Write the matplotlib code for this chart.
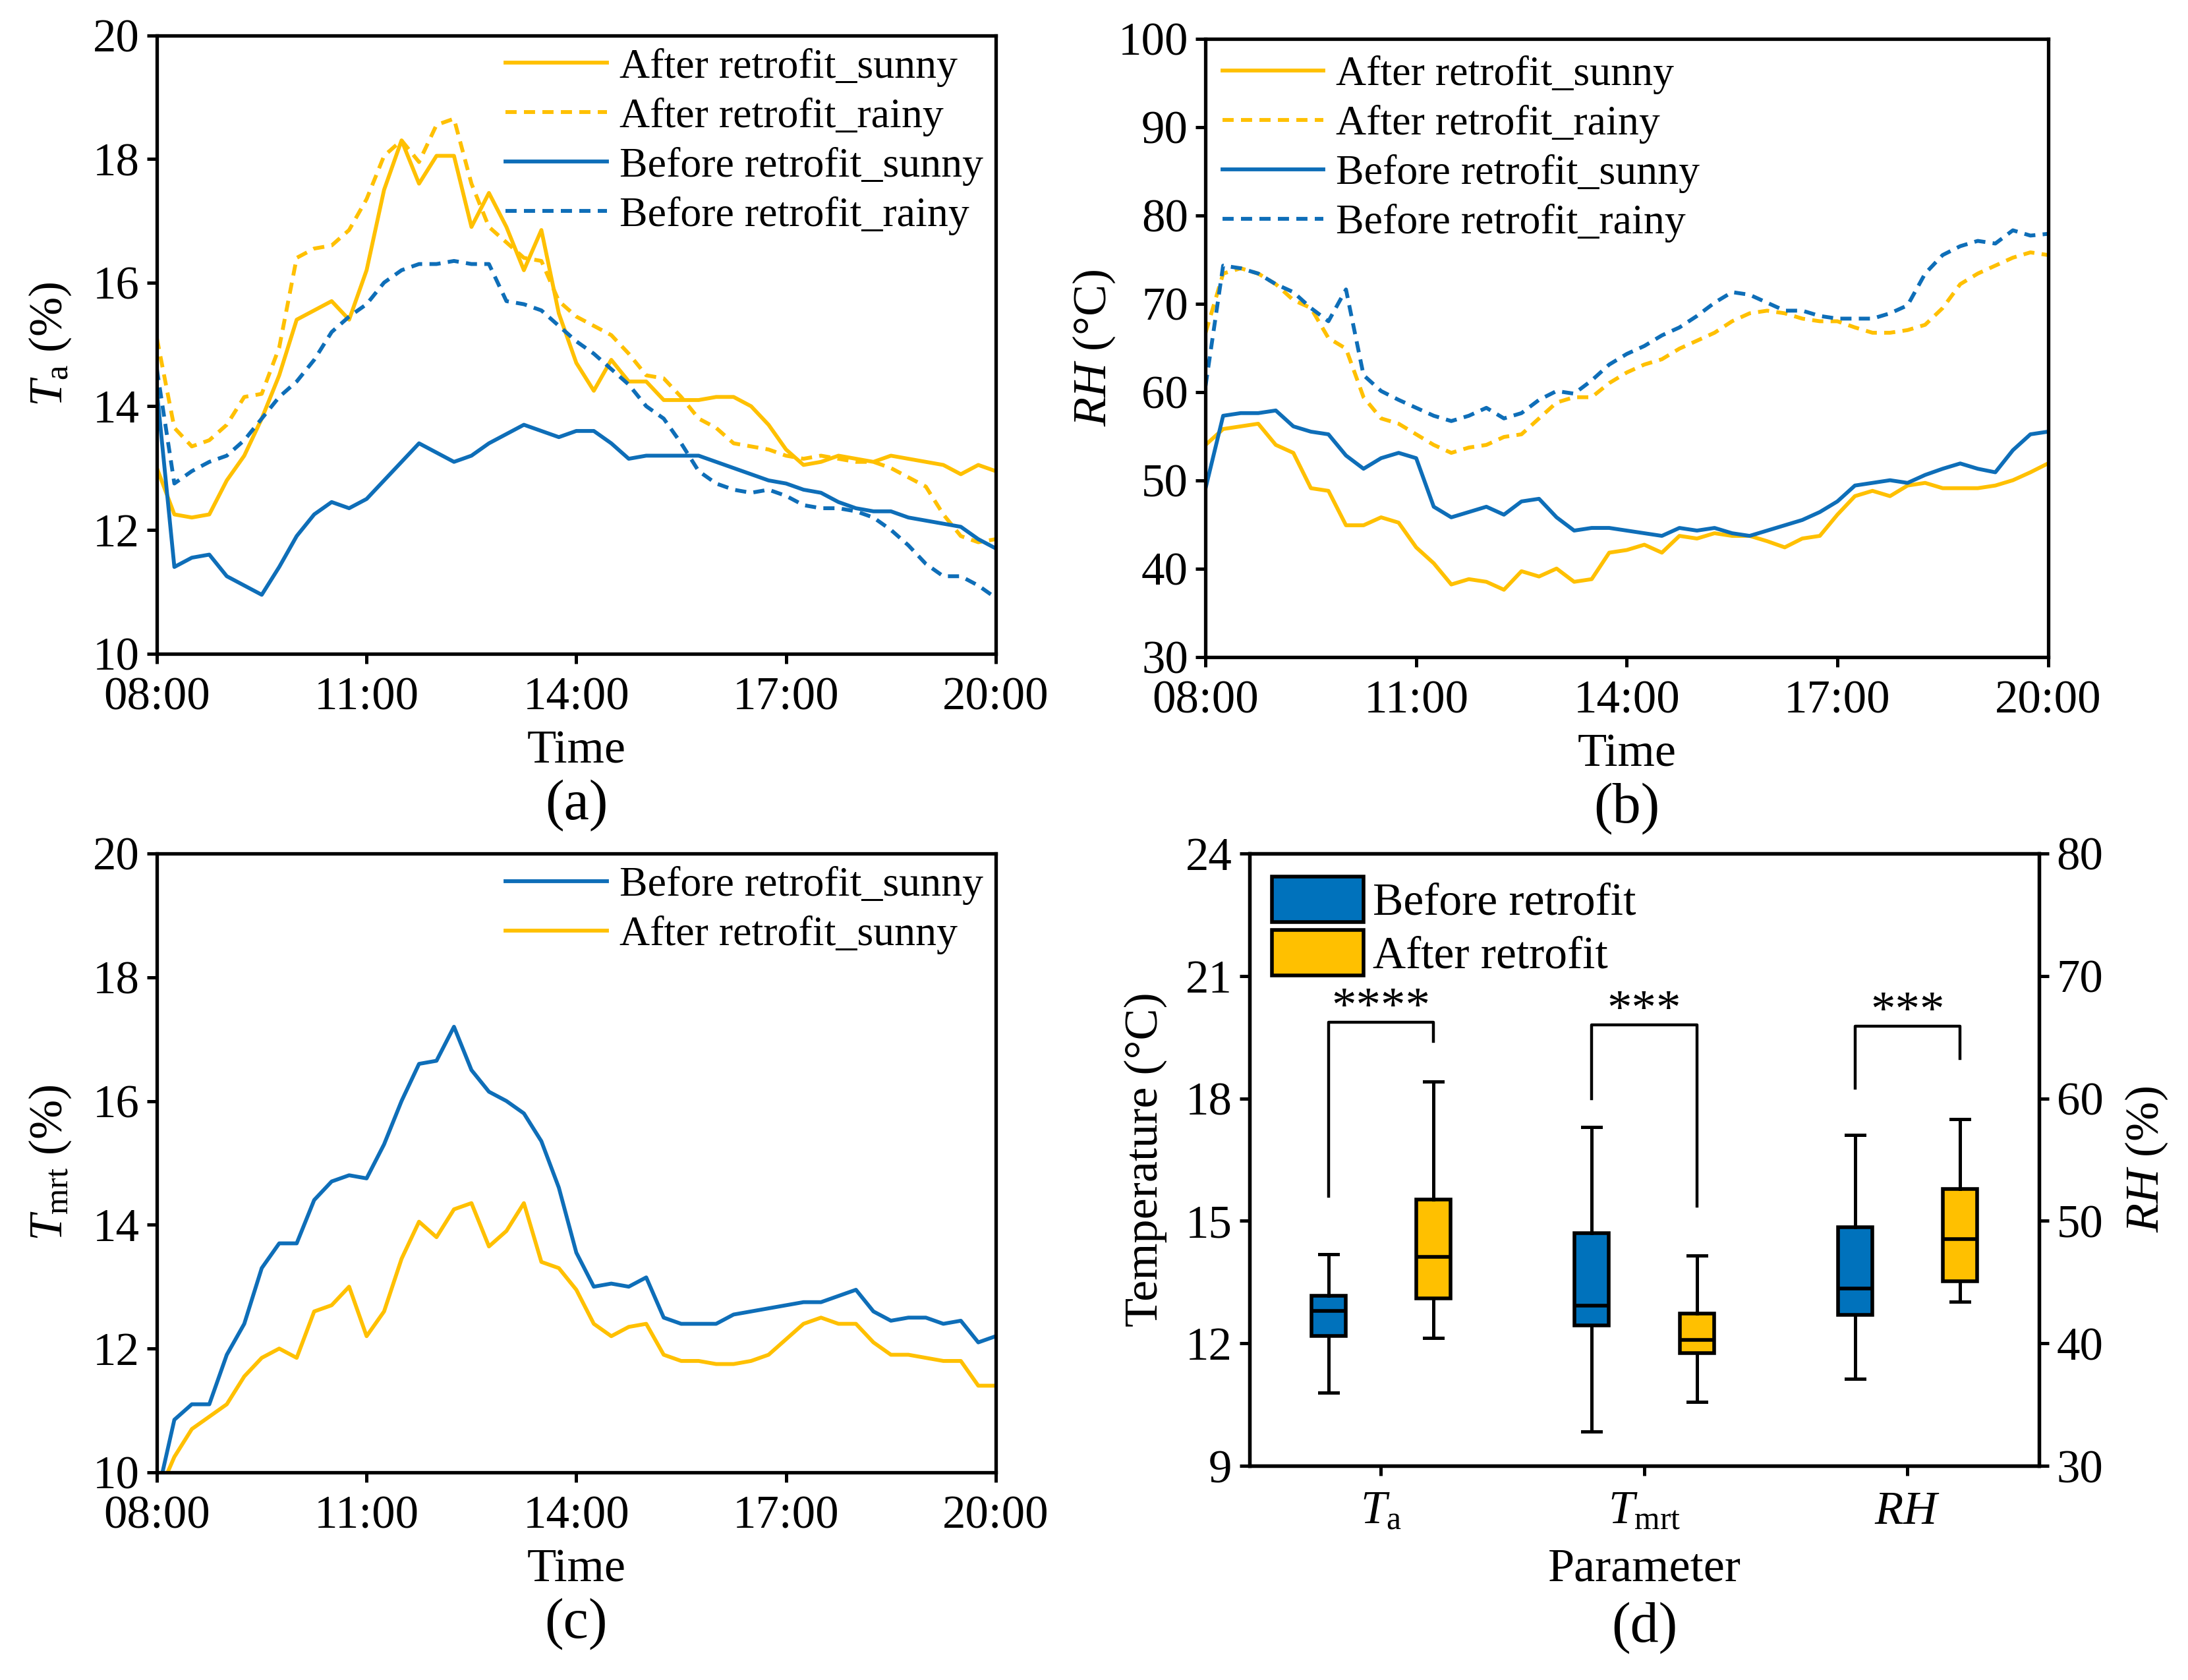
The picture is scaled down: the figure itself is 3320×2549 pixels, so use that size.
import numpy as np
import matplotlib
matplotlib.use("Agg")
import matplotlib.pyplot as plt
from matplotlib.patches import Patch

plt.rcParams.update({
    "font.family": ["Liberation Serif", "DejaVu Serif"],
    "mathtext.fontset": "custom",
    "mathtext.rm": "Liberation Serif",
    "mathtext.it": "Liberation Serif:italic",
    "mathtext.bf": "Liberation Serif:bold",
    "axes.linewidth": 2.0,
})

# ---------------- data ----------------
time_ticks = [8, 11, 14, 17, 20]
time_labels = ["08:00", "11:00", "14:00", "17:00", "20:00"]
hours = 8 + np.arange(49) * 0.25  # 15-min samples 08:00-20:00

# (a) air temperature Ta
ta_after_sunny = [13.0, 12.25, 12.2, 12.25, 12.8, 13.2, 13.8, 14.5, 15.4, 15.55, 15.7, 15.4,
                  16.2, 17.5, 18.3, 17.6, 18.05, 18.05, 16.9, 17.45, 16.9, 16.2, 16.85, 15.5,
                  14.7, 14.25, 14.75, 14.4, 14.4, 14.1, 14.1, 14.1, 14.15, 14.15, 14.0, 13.7,
                  13.3, 13.05, 13.1, 13.2, 13.15, 13.1, 13.2, 13.15, 13.1, 13.05, 12.9, 13.05, 12.95]
ta_after_rainy = [15.1, 13.65, 13.35, 13.45, 13.7, 14.15, 14.2, 14.95, 16.4, 16.55, 16.6, 16.85,
                  17.35, 18.05, 18.3, 17.95, 18.55, 18.65, 17.6, 16.9, 16.65, 16.4, 16.35, 15.7,
                  15.45, 15.3, 15.15, 14.85, 14.5, 14.45, 14.15, 13.8, 13.65, 13.4, 13.35, 13.3,
                  13.2, 13.15, 13.2, 13.15, 13.1, 13.1, 13.0, 12.85, 12.7, 12.25, 11.9, 11.8, 11.85]
ta_before_sunny = [14.25, 11.4, 11.55, 11.6, 11.25, 11.1, 10.95, 11.4, 11.9, 12.25, 12.45, 12.35,
                   12.5, 12.8, 13.1, 13.4, 13.25, 13.1, 13.2, 13.4, 13.55, 13.7, 13.6, 13.5,
                   13.6, 13.6, 13.4, 13.15, 13.2, 13.2, 13.2, 13.2, 13.1, 13.0, 12.9, 12.8,
                   12.75, 12.65, 12.6, 12.45, 12.35, 12.3, 12.3, 12.2, 12.15, 12.1, 12.05, 11.85, 11.7]
ta_before_rainy = [14.6, 12.75, 12.95, 13.1, 13.2, 13.45, 13.8, 14.15, 14.4, 14.75, 15.2, 15.45,
                   15.65, 16.0, 16.2, 16.3, 16.3, 16.35, 16.3, 16.3, 15.7, 15.65, 15.55, 15.3,
                   15.05, 14.85, 14.6, 14.35, 14.0, 13.8, 13.4, 12.95, 12.75, 12.65, 12.6, 12.65,
                   12.55, 12.4, 12.35, 12.35, 12.3, 12.2, 12.0, 11.75, 11.45, 11.25, 11.25, 11.1, 10.9]

# (b) relative humidity RH
rh_after_sunny = [54.0, 55.8, 56.1, 56.4, 54.0, 53.1, 49.1, 48.8, 44.9, 44.9, 45.8, 45.2,
                  42.4, 40.6, 38.2, 38.8, 38.5, 37.6, 39.7, 39.1, 40.0, 38.5, 38.8, 41.8,
                  42.1, 42.7, 41.8, 43.7, 43.4, 44.0, 43.7, 43.7, 43.1, 42.4, 43.4, 43.7,
                  46.1, 48.2, 48.8, 48.2, 49.4, 49.7, 49.1, 49.1, 49.1, 49.4, 50.0, 50.9, 51.9]
rh_after_rainy = [66.7, 73.4, 74.0, 73.4, 72.2, 70.4, 69.5, 66.1, 64.9, 59.4, 57.0, 56.4,
                  55.2, 54.0, 53.1, 53.7, 54.0, 54.9, 55.2, 57.0, 58.8, 59.4, 59.4, 61.0,
                  62.2, 63.1, 63.7, 64.9, 65.8, 66.7, 68.0, 68.9, 69.2, 68.9, 68.3, 68.0,
                  68.0, 67.3, 66.7, 66.7, 67.0, 67.6, 69.5, 72.2, 73.4, 74.3, 75.2, 75.8, 75.5]
rh_before_sunny = [49.1, 57.3, 57.6, 57.6, 57.9, 56.1, 55.5, 55.2, 52.8, 51.3, 52.5, 53.1,
                   52.5, 47.0, 45.8, 46.4, 47.0, 46.1, 47.6, 47.9, 45.8, 44.3, 44.6, 44.6,
                   44.3, 44.0, 43.7, 44.6, 44.3, 44.6, 44.0, 43.7, 44.3, 44.9, 45.5, 46.4,
                   47.6, 49.4, 49.7, 50.0, 49.7, 50.6, 51.3, 51.9, 51.3, 50.9, 53.4, 55.2, 55.5]
rh_before_rainy = [60.7, 74.3, 74.0, 73.4, 72.2, 71.3, 69.5, 68.0, 71.6, 61.9, 60.1, 59.1,
                   58.2, 57.3, 56.7, 57.3, 58.2, 57.0, 57.6, 59.1, 60.1, 59.8, 61.3, 63.1,
                   64.3, 65.2, 66.4, 67.3, 68.6, 70.1, 71.3, 71.0, 70.1, 69.2, 69.2, 68.6,
                   68.3, 68.3, 68.3, 68.9, 69.8, 73.4, 75.5, 76.5, 77.1, 76.8, 78.3, 77.7, 77.9]

# (c) mean radiant temperature Tmrt
tmrt_before_sunny = [9.6, 10.85, 11.1, 11.1, 11.9, 12.4, 13.3, 13.7, 13.7, 14.4, 14.7, 14.8,
                     14.75, 15.3, 16.0, 16.6, 16.65, 17.2, 16.5, 16.15, 16.0, 15.8, 15.35, 14.6,
                     13.55, 13.0, 13.05, 13.0, 13.15, 12.5, 12.4, 12.4, 12.4, 12.55, 12.6, 12.65,
                     12.7, 12.75, 12.75, 12.85, 12.95, 12.6, 12.45, 12.5, 12.5, 12.4, 12.45, 12.1, 12.2]
tmrt_after_sunny = [9.6, 10.25, 10.7, 10.9, 11.1, 11.55, 11.85, 12.0, 11.85, 12.6, 12.7, 13.0,
                    12.2, 12.6, 13.45, 14.05, 13.8, 14.25, 14.35, 13.65, 13.9, 14.35, 13.4, 13.3,
                    12.95, 12.4, 12.2, 12.35, 12.4, 11.9, 11.8, 11.8, 11.75, 11.75, 11.8, 11.9,
                    12.15, 12.4, 12.5, 12.4, 12.4, 12.1, 11.9, 11.9, 11.85, 11.8, 11.8, 11.4, 11.4]

# (d) box-plot statistics: [whislo, q1, median, q3, whishi]
params = ["$T_{\\mathrm{a}}$", "$T_{\\mathrm{mrt}}$", "$RH$"]
box_ta_before = [10.8, 12.18, 12.8, 13.16, 14.18]
box_ta_after = [12.14, 13.1, 14.11, 15.53, 18.42]
box_tmrt_before = [9.84, 12.44, 12.93, 14.7, 17.3]
box_tmrt_after = [10.56, 11.76, 12.09, 12.73, 14.15]
box_rh_before = [37.1, 42.35, 44.45, 49.5, 57.0]
box_rh_after = [43.4, 45.05, 48.5, 52.6, 58.3]
significance = ["****", "***", "***"]

# ---------------- style ----------------
YEL = "#FFC000"
BLU = "#0E6EB8"
BOX_BLU = "#0072BC"
BOX_YEL = "#FFC000"
LW = 2.1
DASH = (0, (2.9, 1.9))
FS_TICK = 25.5
FS_LEG = 23
FS_LAB = 26
FS_PANEL = 31

fig = plt.figure(figsize=(16.6, 12.745), dpi=200)

def style_axes(ax):
    ax.tick_params(direction="out", length=5.5, width=1.8, labelsize=FS_TICK, pad=4)
    ax.tick_params(axis="x", pad=7)
    for s in ax.spines.values():
        s.set_linewidth(1.9)

def time_axes(rect, ylim, yticks, ylabel, panel, ylab_x):
    ax = fig.add_axes(rect)
    ax.set_xlim(8, 20)
    ax.set_ylim(*ylim)
    ax.set_xticks(time_ticks)
    ax.set_xticklabels(time_labels)
    ax.set_yticks(yticks)
    style_axes(ax)
    ax.set_xlabel("Time", fontsize=FS_LAB, va="center")
    ax.xaxis.set_label_coords(0.5, -0.158)
    ax.set_ylabel(ylabel, fontsize=FS_LAB)
    ax.yaxis.set_label_coords(ylab_x, 0.5)
    ax.text(0.5, -0.245, panel, transform=ax.transAxes, ha="center", va="center",
            fontsize=FS_PANEL)
    return ax

leg_kw = dict(frameon=False, fontsize=FS_LEG, handlelength=2.4, handletextpad=0.3,
              labelspacing=0.25, borderpad=0.2)

# (a)
axA = time_axes([0.0717, 0.611, 0.3834, 0.368], (10, 20), [10, 12, 14, 16, 18, 20],
                "$T_{\\mathrm{a}}$ (%)", "(a)", -0.10)
axA.plot(hours, ta_after_sunny, color=YEL, lw=LW, label="After retrofit_sunny")
axA.plot(hours, ta_after_rainy, color=YEL, lw=LW, ls=DASH, label="After retrofit_rainy")
axA.plot(hours, ta_before_sunny, color=BLU, lw=LW, label="Before retrofit_sunny")
axA.plot(hours, ta_before_rainy, color=BLU, lw=LW, ls=DASH, label="Before retrofit_rainy")
axA.legend(loc="upper right", bbox_to_anchor=(1.0, 1.0), borderaxespad=0.1, **leg_kw)

# (b)
axB = time_axes([0.551, 0.609, 0.385, 0.368], (30, 100), [30, 40, 50, 60, 70, 80, 90, 100],
                "$RH$ (°C)", "(b)", -0.105)
axB.plot(hours, rh_after_sunny, color=YEL, lw=LW, label="After retrofit_sunny")
axB.plot(hours, rh_after_rainy, color=YEL, lw=LW, ls=DASH, label="After retrofit_rainy")
axB.plot(hours, rh_before_sunny, color=BLU, lw=LW, label="Before retrofit_sunny")
axB.plot(hours, rh_before_rainy, color=BLU, lw=LW, ls=DASH, label="Before retrofit_rainy")
axB.legend(loc="upper left", borderaxespad=0.2, **leg_kw)

# (c)
axC = time_axes([0.0717, 0.1236, 0.3834, 0.3684], (10, 20), [10, 12, 14, 16, 18, 20],
                "$T_{\\mathrm{mrt}}$ (%)", "(c)", -0.10)
axC.plot(hours, tmrt_before_sunny, color=BLU, lw=LW, label="Before retrofit_sunny")
axC.plot(hours, tmrt_after_sunny, color=YEL, lw=LW, label="After retrofit_sunny")
axC.legend(loc="upper right", bbox_to_anchor=(1.0, 1.0), borderaxespad=0.1, **leg_kw)

# (d)
axD = fig.add_axes([0.571, 0.1275, 0.361, 0.3645])
axD2 = axD.twinx()
axD.set_xlim(0.5, 3.5)
axD.set_ylim(9, 24)
axD.set_yticks([9, 12, 15, 18, 21, 24])
axD2.set_ylim(30, 80)
axD2.set_yticks([30, 40, 50, 60, 70, 80])
style_axes(axD)
style_axes(axD2)
axD.set_xticks([1, 2, 3])
axD.set_xticklabels(params)
axD.tick_params(axis="x", pad=8)

def stats(v, label):
    return {"whislo": v[0], "q1": v[1], "med": v[2], "q3": v[3], "whishi": v[4],
            "fliers": [], "label": label}

box_kw = dict(widths=0.13, patch_artist=True, showfliers=False, manage_ticks=False,
              boxprops=dict(edgecolor="black", linewidth=2.0),
              medianprops=dict(color="black", linewidth=2.0),
              whiskerprops=dict(color="black", linewidth=1.8),
              capprops=dict(color="black", linewidth=1.8), capwidths=0.07)

b1 = axD.bxp([stats(box_ta_before, "Ta"), stats(box_tmrt_before, "Tmrt")],
             positions=[0.8, 1.8], **box_kw)
b2 = axD.bxp([stats(box_ta_after, "Ta"), stats(box_tmrt_after, "Tmrt")],
             positions=[1.2, 2.2], **box_kw)
b3 = axD2.bxp([stats(box_rh_before, "RH")], positions=[2.8], **box_kw)
b4 = axD2.bxp([stats(box_rh_after, "RH")], positions=[3.2], **box_kw)
for b in (b1, b3):
    for p in b["boxes"]:
        p.set_facecolor(BOX_BLU)
for b in (b2, b4):
    for p in b["boxes"]:
        p.set_facecolor(BOX_YEL)

# significance brackets (left-axis units)
br_top = [19.86, 19.8, 19.77]
br_left = [15.6, 18.0, 18.25]
br_right = [19.4, 15.36, 18.98]
for i, (t, l, r, s) in enumerate(zip(br_top, br_left, br_right, significance)):
    c = i + 1
    axD.plot([c - 0.2, c - 0.2, c + 0.2, c + 0.2], [l, t, t, r], color="black", lw=1.6)
    axD.text(c, t - 0.22, s, ha="center", va="bottom", fontsize=27)

axD.set_ylabel("Temperature (°C)", fontsize=FS_LAB)
axD.yaxis.set_label_coords(-0.104, 0.5)
axD2.set_ylabel("$RH$ (%)", fontsize=FS_LAB)
axD2.yaxis.set_label_coords(1.107, 0.5)
axD.set_xlabel("Parameter", fontsize=FS_LAB, va="center")
axD.xaxis.set_label_coords(0.5, -0.169)
axD.text(0.5, -0.265, "(d)", transform=axD.transAxes, ha="center", va="center",
         fontsize=FS_PANEL)
handles = [Patch(facecolor=BOX_BLU, edgecolor="black", linewidth=2.0, label="Before retrofit"),
           Patch(facecolor=BOX_YEL, edgecolor="black", linewidth=2.0, label="After retrofit")]
axD.legend(handles=handles, loc="upper left", frameon=False, fontsize=25,
           handlelength=2.0, handleheight=1.15, handletextpad=0.2, labelspacing=0.12,
           borderaxespad=0.3, borderpad=0.2)

fig.savefig("out.png", dpi=200)
